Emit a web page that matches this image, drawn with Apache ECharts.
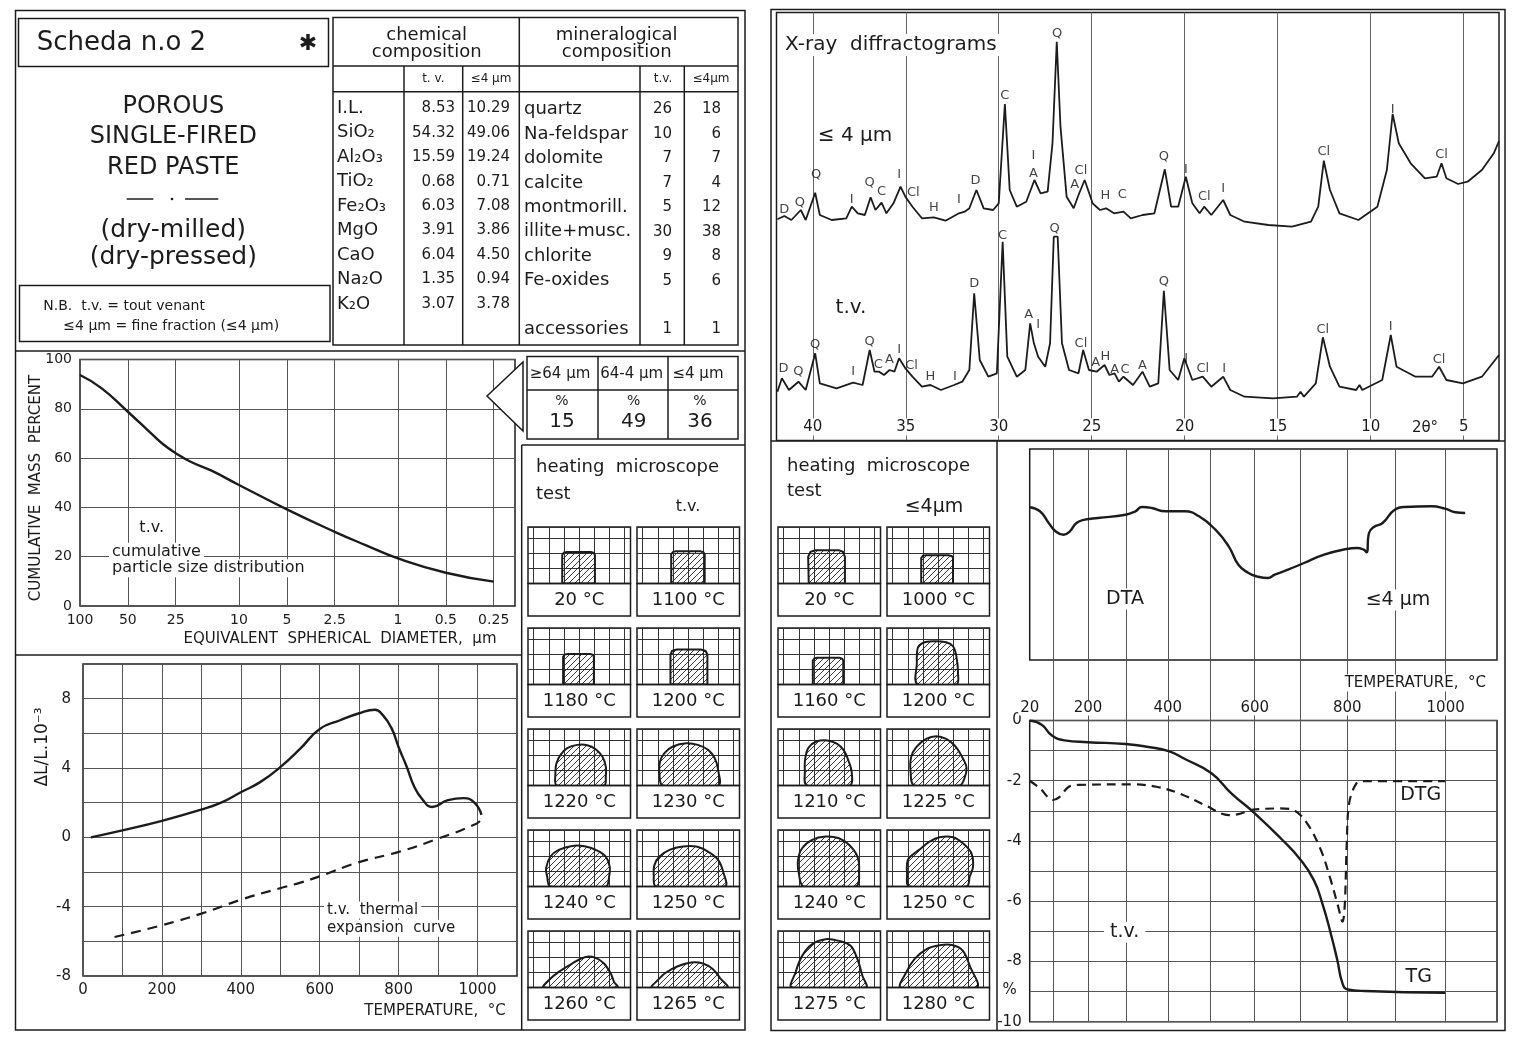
<!DOCTYPE html>
<html><head><meta charset="utf-8">
<script src="https://cdn.jsdelivr.net/npm/echarts@6/dist/echarts.min.js"></script>
<style>html,body{margin:0;padding:0;background:#fff}#c{width:1513px;height:1040px}</style>
</head><body><div id="c"></div>
<script>
// ===================== DATA =====================
const chemNames = ['I.L.','SiO₂','Al₂O₃','TiO₂','Fe₂O₃','MgO','CaO','Na₂O','K₂O'];
const chemTV    = ['8.53','54.32','15.59','0.68','6.03','3.91','6.04','1.35','3.07'];
const chemFine  = ['10.29','49.06','19.24','0.71','7.08','3.86','4.50','0.94','3.78'];
const minNames  = ['quartz','Na-feldspar','dolomite','calcite','montmorill.','illite+musc.','chlorite','Fe-oxides','','accessories'];
const minTV     = ['26','10','7','7','5','30','9','5','','1'];
const minFine   = ['18','6','7','4','12','38','8','6','','1'];
const sizeClasses = ['≥64 µm','64-4 µm','≤4 µm'];
const sizeShares  = ['15','49','36'];

// cumulative particle size distribution (t.v.)
const psdTicks      = [100,50,25,10,5,2.5,1,0.5,0.25];
const psdDiameter   = [100,73,50,35,30,25,20,15,10,5,2.5,1.6,1,0.5,0.25];
const psdCumulative = [93.7,88.3,78.8,69.5,65.6,62,58.4,55,49.1,39.2,30.1,24.7,19.3,13.5,9.9];

// thermal expansion (ΔL/L·10^-3 vs °C)
const dilHeatT = [20,100,200,300,350,400,450,500,550,600,650,700,740,760,782,800,820,840,860,885,925,965,992,1010];
const dilHeatV = [0,0.4,0.95,1.6,2.0,2.6,3.2,4.05,5.1,6.25,6.74,7.16,7.36,7.05,6.3,5.2,4.1,2.9,2.2,1.75,2.15,2.26,2.0,1.3];
const dilCoolT = [80,200,300,400,497,553,600,697,800,897,994,1010];
const dilCoolV = [-5.75,-5.07,-4.4,-3.6,-2.95,-2.6,-2.25,-1.45,-0.84,-0.1,0.75,1.05];

// X-ray diffractograms [2θ, counts (arbitrary)]
const xrdTicks = [5,10,15,20,25,30,35,40];
const xrdFine = [[41.9,219.7],[41.53,223],[41.15,219],[40.64,229],[40.38,219],[39.87,246.3],[39.62,224],[38.98,219],[38.2,220.7],[37.9,232.3],[37.58,225.7],[37.2,224],[36.89,241.7],[36.63,229],[36.3,236.3],[36.04,225.7],[35.66,235.7],[35.28,252.3],[35.02,242.3],[34.64,232.3],[34.13,220.7],[33.49,221.7],[32.86,218.3],[32.14,225.7],[31.83,227.3],[31.58,230.7],[31.2,249],[30.81,230.7],[30.3,229],[30.0,235.7],[29.67,335],[29.41,249],[29.03,232.3],[28.52,237.3],[28.08,259],[27.75,245.7],[27.37,247.3],[27.11,295.7],[26.88,397.3],[26.68,312.3],[26.35,242.3],[25.97,230.7],[25.71,244],[25.38,259],[24.95,235.7],[24.56,229],[24.23,230.7],[23.8,225.7],[23.29,227.3],[22.9,220.7],[22.27,224],[21.63,225.7],[21.07,269.7],[20.73,232.3],[20.35,232.3],[19.94,262.3],[19.59,235.7],[19.2,225.7],[18.95,232.3],[18.57,224],[17.93,239],[17.55,224],[16.78,217.3],[15.5,214],[14.23,212.3],[13.21,217.3],[12.82,232.3],[12.52,278.3],[12.19,249],[11.68,225.7],[10.66,219],[9.64,232.3],[9.13,269],[8.82,325],[8.49,295.7],[7.85,275.7],[7.08,260.7],[6.45,262.3],[6.19,275.7],[5.93,260.7],[5.3,255],[4.79,257.3],[4.02,269],[3.38,285.7],[3.1,298]];
const xrdTV = [[41.9,47.3],[41.66,60.7],[41.28,49],[40.77,57.3],[40.38,49],[39.87,85.7],[39.62,55.7],[38.72,50.7],[37.83,56.3],[37.32,54],[36.94,89],[36.68,67.3],[36.43,67.3],[36.17,64],[35.87,69],[35.61,67.3],[35.36,80.7],[35.02,70.7],[34.64,62.3],[34.13,52.3],[33.67,54],[33.11,49],[32.4,54],[31.96,57.3],[31.58,69],[31.32,145.7],[31.02,79],[30.56,62.3],[30.1,65.7],[29.79,197.3],[29.54,82.3],[29.03,62.3],[28.57,69],[28.31,115.7],[28.11,95.7],[27.88,82.3],[27.5,72.3],[27.24,95.7],[27.04,202.3],[26.83,202.3],[26.6,95.7],[26.22,69],[25.71,65.7],[25.46,89],[25.15,69],[24.74,67.3],[24.31,74],[24.05,64],[23.77,65.7],[23.54,57.3],[23.29,62.3],[22.78,54],[22.27,67.3],[21.88,52.3],[21.42,55.7],[21.12,148.3],[20.81,69],[20.35,59],[20.02,80.7],[19.59,59],[19.03,62.3],[18.57,52.3],[17.93,62.3],[17.55,49],[16.78,42.3],[15.25,40.7],[13.97,42.3],[13.77,47.3],[13.59,42.3],[12.95,55.7],[12.57,101.7],[12.19,72.3],[11.68,52.3],[10.78,49],[10.6,54],[10.45,49],[9.38,59],[8.92,104],[8.61,72.3],[7.59,62.3],[6.7,62.3],[6.32,72.3],[5.93,59],[5.04,55.7],[4.02,62.3],[3.1,84]];
const xrdFinePeaks = [[41.53,229.7,'D'],[40.69,236.7,'Q'],[39.82,264.7,'Q'],[37.91,239.7,'I'],[36.94,256.3,'Q'],[36.3,247.3,'C'],[35.36,264,'I'],[34.59,246.3,'Cl'],[33.49,231.7,'H'],[32.14,239,'I'],[31.25,258.3,'D'],[29.67,343,'C'],[28.13,283,'I'],[28.13,265.7,'A'],[26.86,405,'Q'],[25.91,254,'A'],[25.58,268.3,'Cl'],[24.26,243,'H'],[23.36,244.7,'C'],[21.12,282.3,'Q'],[19.94,269.7,'I'],[18.95,242.3,'Cl'],[17.93,250.7,'I'],[12.52,287.3,'Cl'],[8.82,329.7,'I'],[6.19,284.7,'Cl']];
const xrdTVPeaks = [[41.58,70.7,'D'],[40.77,67.3,'Q'],[39.87,94,'Q'],[37.83,67.3,'I'],[36.94,97.3,'Q'],[36.48,74,'C'],[35.87,79,'A'],[35.36,89,'I'],[34.69,73,'Cl'],[33.67,62.3,'H'],[32.35,62.3,'I'],[31.32,155.7,'D'],[29.79,203.7,'C'],[28.39,124,'A'],[27.88,114,'I'],[26.99,210,'Q'],[25.58,95,'Cl'],[24.79,76.3,'A'],[24.26,82.3,'H'],[23.77,69,'A'],[23.21,69.7,'C'],[22.27,73,'A'],[21.12,157.3,'Q'],[19.92,80.7,'I'],[19.03,70.7,'Cl'],[17.88,70.7,'I'],[12.57,109,'Cl'],[8.92,112,'I'],[6.32,79,'Cl']];

// thermal analysis: temperature axis of type-S thermocouple (°C ↔ mV)
const tcTemp = [20,100,200,300,400,500,600,700,800,900,1000,1100];
const tcEmf  = [0.113,0.646,1.441,2.323,3.259,4.233,5.239,6.275,7.345,8.449,9.587,10.757];
const tempLabels = [20,200,400,600,800,1000];
const dtaT = [20,55,85,107,130,148,167,191,226,297,321,337,361,394,440,473,511,541,563,586,604,629,644,673,708,751,799,820,834,840,845,855,873,898,918,972,999,1019,1038];
const dtaV = [152.7,148.7,137,128.7,125.3,128.7,137,140.3,142,145.3,148.7,153,152,148.7,148.7,143.7,130.3,113.7,95.3,87,83.7,82,85.3,90.3,97,105.3,111,112,110.3,107.7,127,133,137,150.3,153,153.7,151.3,147.7,147];
const tgT = [20,61,96,133,200,297,353,402,440,502,547,600,657,701,729,747,765,779,790,801,837,999];
const tgV = [0,-0.14,-0.5,-0.66,-0.72,-0.78,-0.88,-1.02,-1.28,-1.75,-2.42,-3.08,-3.91,-4.63,-5.3,-6.07,-7.07,-7.96,-8.73,-8.93,-8.98,-9.04];
const dtgT = [20,55,99,117,145,173,315,372,427,487,541,563,593,657,686,715,744,765,781,790,795,799,804,818,832,999];
const dtgV = [-2.0,-2.25,-2.64,-2.55,-2.2,-2.14,-2.12,-2.2,-2.42,-2.81,-3.14,-3.11,-2.97,-2.92,-2.98,-3.42,-4.3,-5.3,-6.19,-6.68,-6.07,-4.08,-2.75,-2.11,-2.01,-2.01];

// heating microscope silhouettes, in grid squares (x, height)
const tvLabels = ['20 °C','1100 °C','1180 °C','1200 °C','1220 °C','1230 °C','1240 °C','1250 °C','1260 °C','1265 °C'];
const tvShapes = [
 [[1.89,0],[1.89,1.9],[2.0,2.06],[2.2,2.11],[3.8,2.11],[3.98,2.05],[4.06,1.9],[4.06,0]],
 [[1.89,0],[1.89,1.95],[2.0,2.1],[2.2,2.16],[3.8,2.16],[4.02,2.1],[4.11,1.95],[4.11,0]],
 [[1.95,0],[1.95,1.85],[2.05,2.0],[2.25,2.04],[3.75,2.04],[3.93,1.98],[3.99,1.85],[3.99,0]],
 [[1.84,0],[1.84,2.0],[1.95,2.24],[2.25,2.33],[3.85,2.33],[4.17,2.24],[4.29,2.0],[4.29,0]],
 [[1.55,0],[1.44,0.82],[1.51,1.49],[1.78,2.04],[2.22,2.49],[2.89,2.71],[3.55,2.69],[4.11,2.42],[4.55,1.93],[4.78,1.27],[4.78,0.6],[4.66,0]],
 [[1.33,0],[1.11,0.82],[1.15,1.6],[1.44,2.16],[2.0,2.6],[2.89,2.82],[3.66,2.71],[4.33,2.38],[4.78,1.82],[5.0,1.04],[5.0,0]],
 [[1.11,0],[0.89,0.67],[0.82,1.22],[1.11,2.0],[1.66,2.44],[2.55,2.71],[3.44,2.67],[4.22,2.4],[4.78,2.0],[5.04,1.33],[5.0,0.67],[4.78,0]],
 [[0.89,0],[0.73,0.78],[0.78,1.44],[1.11,2.0],[1.78,2.44],[2.66,2.67],[3.55,2.67],[4.33,2.33],[5.0,1.78],[5.33,1.0],[5.44,0]],
 [[0.66,0],[1.0,0.49],[1.66,1.04],[2.55,1.6],[3.44,2.04],[4.11,1.98],[4.66,1.6],[5.11,0.93],[5.33,0.38],[5.55,0]],
 [[0.62,0],[1.0,0.49],[1.55,1.0],[2.33,1.42],[3.22,1.67],[4.0,1.6],[4.66,1.22],[5.15,0.6],[5.6,0]]
];
const fineLabels = ['20 °C','1000 °C','1160 °C','1200 °C','1210 °C','1225 °C','1240 °C','1250 °C','1275 °C','1280 °C'];
const fineShapes = [
 [[1.66,0],[1.62,1.78],[1.78,2.11],[2.11,2.22],[3.66,2.22],[3.93,2.11],[4.06,1.78],[4.06,0]],
 [[1.89,0],[1.89,1.7],[2.0,1.85],[2.2,1.89],[3.7,1.89],[3.92,1.83],[4.0,1.7],[4.0,0]],
 [[1.93,0],[1.93,1.6],[2.03,1.74],[2.2,1.78],[3.7,1.78],[3.88,1.72],[3.95,1.6],[3.95,0]],
 [[1.66,0],[1.6,1.44],[1.66,2.44],[2.0,2.78],[2.66,2.89],[3.55,2.82],[4.0,2.55],[4.22,1.89],[4.33,0.78],[4.22,0]],
 [[1.55,0],[1.4,1.0],[1.44,1.89],[1.66,2.55],[2.22,2.95],[2.89,3.0],[3.55,2.78],[4.0,2.33],[4.29,1.67],[4.51,0.89],[4.38,0]],
 [[1.44,0],[1.18,1.0],[1.22,1.89],[1.55,2.55],[2.22,3.11],[2.89,3.29],[3.55,3.11],[4.11,2.67],[4.55,2.0],[4.89,1.22],[4.78,0.55],[4.44,0]],
 [[1.33,0],[1.0,0.89],[0.95,1.78],[1.22,2.55],[1.89,3.11],[2.78,3.33],[3.66,3.22],[4.33,2.78],[4.89,2.0],[5.0,1.11],[4.78,0]],
 [[1.11,0],[0.95,0.89],[1.0,1.78],[1.44,2.22],[1.89,2.55],[2.44,3.0],[3.11,3.29],[4.0,3.29],[4.66,2.89],[5.22,2.22],[5.33,1.33],[5.11,0.67],[4.89,0]],
 [[0.55,0],[0.78,1.0],[1.22,2.11],[1.89,2.89],[2.78,3.22],[3.66,3.11],[4.44,2.78],[4.89,1.89],[5.22,0.78],[5.44,0]],
 [[0.55,0],[0.89,1.0],[1.44,1.89],[2.22,2.55],[3.11,2.82],[4.0,2.82],[4.66,2.44],[5.11,1.44],[5.55,0]]
];
const cellCols = [0,1,2,3,4,5,6];

// ===================== STYLE / HELPERS =====================
const FONT = "'DejaVu Sans', 'Liberation Sans', sans-serif";
const INK = '#1c1c1c';
const GRIDC = '#555';

function toEmf(t){
  for (let i=0;i<tcTemp.length-1;i++){
    if (t <= tcTemp[i+1]) { const f=(t-tcTemp[i])/(tcTemp[i+1]-tcTemp[i]); return tcEmf[i]+f*(tcEmf[i+1]-tcEmf[i]); }
  }
  return tcEmf[tcEmf.length-1];
}
function emfToLabel(v){ for (let i=0;i<tcEmf.length;i++){ if (Math.abs(tcEmf[i]-v)<1e-6) return String(tcTemp[i]); } return ''; }

const els = [];
function R(x,y,w,h,lw){ els.push({type:'rect', silent:true, z:20, shape:{x,y,width:w,height:h}, style:{fill:'none', stroke:INK, lineWidth:lw||1.5}}); }
function L(x1,y1,x2,y2,lw){ els.push({type:'line', silent:true, z:20, shape:{x1,y1,x2,y2}, style:{stroke:INK, lineWidth:lw||1.5}}); }
function T(x,y,text,size,align,opt){
  opt = opt||{};
  const st = {text, fill:INK, font: size+'px '+FONT, align: align||'left', verticalAlign:'middle', textAlign: align||'left', textVerticalAlign:'middle'};
  if (opt.bg) { st.backgroundColor = '#fff'; st.padding = opt.pad || [1,3]; }
  els.push({type:'text', silent:true, z: 30, x, y, rotation: opt.rot||0, style: st});
}

const grids=[], xAxes=[], yAxes=[], series=[];
const baseAxis = {type:'value', axisLine:{show:false}, axisTick:{show:false}, axisLabel:{show:false}, splitLine:{show:false}};
function G(o){ grids.push(Object.assign({outerBoundsMode:'none', containLabel:false}, o)); return grids.length-1; }
function XA(o){ xAxes.push(Object.assign({}, baseAxis, o)); return xAxes.length-1; }
function YA(o){ yAxes.push(Object.assign({}, baseAxis, o)); return yAxes.length-1; }
const split = (c,w)=>({show:true, lineStyle:{color:c||GRIDC, width:w||1}});
const lbl = (o)=>Object.assign({show:true, color:INK, fontFamily:FONT, fontSize:14}, o||{});
const lineS = (c)=>Object.assign({type:'line', symbol:'none', silent:true, z:3}, c);

// ---- particle size chart ----
const gP = G({left:80, top:359.5, width:435, height:246.5, show:true, borderColor:INK, borderWidth:1.5});
const psdLog = psdTicks.map(Math.log10);
const xP = XA({gridIndex:gP, min:-0.736, max:2, inverse:true,
  axisTick:{show:false, customValues:psdLog},
  axisLabel:lbl({customValues:psdLog, margin:7, formatter:v=>{ for (const d of psdTicks) if (Math.abs(Math.log10(d)-v)<1e-6) return String(d); return ''; }}),
  splitLine:split()});
const yP = YA({gridIndex:gP, min:0, max:100, interval:20, axisLabel:lbl({margin:8}), splitLine:split()});
series.push(lineS({xAxisIndex:xP, yAxisIndex:yP, smooth:0.5, lineStyle:{color:INK, width:2.4},
  data: psdDiameter.map((d,i)=>[Math.log10(d), psdCumulative[i]])}));

// ---- thermal expansion chart ----
const gD = G({left:83, top:664, width:434, height:312, show:true, borderColor:INK, borderWidth:1.5});
const xD = XA({gridIndex:gD, min:0, max:1100, interval:100, axisLabel:lbl({fontSize:15, margin:7, formatter:v=> v%200===0 ? String(v) : ''}), splitLine:split()});
const yD = YA({gridIndex:gD, min:-8, max:10, interval:2, axisLabel:lbl({fontSize:15, margin:12, formatter:v=> (v%4===0 && v<10) ? String(v) : ''}), splitLine:split()});
series.push(lineS({xAxisIndex:xD, yAxisIndex:yD, smooth:0.5, lineStyle:{color:INK, width:2.4}, data: dilHeatT.map((t,i)=>[t, dilHeatV[i]])}));
series.push(lineS({xAxisIndex:xD, yAxisIndex:yD, smooth:0.5, lineStyle:{color:INK, width:2.2, type:[10,7]}, data: dilCoolT.map((t,i)=>[t, dilCoolV[i]])}));

// ---- XRD ----
const gX = G({left:776.5, top:12.5, width:722.5, height:428, show:true, borderColor:INK, borderWidth:1.5});
const xX = XA({gridIndex:gX, min:3.1, max:41.95, inverse:true, axisTick:{show:false, customValues:xrdTicks}, splitLine:split('#666',1)});
XA({gridIndex:gX, min:3.1, max:41.95, inverse:true, position:'bottom', z:5,
  axisLabel:lbl({customValues:xrdTicks, inside:true, margin:5, fontSize:15, backgroundColor:'#fff', padding:[1,3]})});
const yX = YA({gridIndex:gX, min:-1.5, max:426.5});
series.push(lineS({xAxisIndex:xX, yAxisIndex:yX, lineStyle:{color:INK, width:1.8}, data:xrdFine}));
series.push(lineS({xAxisIndex:xX, yAxisIndex:yX, lineStyle:{color:INK, width:1.8}, data:xrdTV}));
const peakLabel = {show:true, position:'inside', color:'#111', fontFamily:FONT, fontSize:13, formatter:p=>p.data[2]};
series.push({type:'scatter', xAxisIndex:xX, yAxisIndex:yX, symbolSize:0, silent:true, z:4, label:peakLabel, data:xrdFinePeaks});
series.push({type:'scatter', xAxisIndex:xX, yAxisIndex:yX, symbolSize:0, silent:true, z:4, label:peakLabel, data:xrdTVPeaks});

// ---- DTA / gap / TG ----
const emfMin = tcEmf[0], emfMax = tcEmf[tcEmf.length-1];
const emfGridTicks = tcEmf.slice(1, tcEmf.length-1);
const emfLabelTicks = tempLabels.map(toEmf);
const tempAxis = (gi)=>XA({gridIndex:gi, min:emfMin, max:emfMax, axisTick:{show:false, customValues:emfGridTicks}, splitLine:split()});
const gA = G({left:1029.7, top:449, width:467.3, height:211, show:true, borderColor:INK, borderWidth:1.5});
const xA = tempAxis(gA);
const yA = YA({gridIndex:gA, min:0, max:211});
series.push(lineS({xAxisIndex:xA, yAxisIndex:yA, smooth:0.5, lineStyle:{color:INK, width:2.4}, data: dtaT.map((t,i)=>[toEmf(t), dtaV[i]])}));

const gGap = G({left:1029.7, top:660, width:467.3, height:60.5});
tempAxis(gGap); YA({gridIndex:gGap, min:0, max:1});

const gT = G({left:1029.7, top:720.5, width:467.3, height:301.2, show:true, borderColor:INK, borderWidth:1.5});
const xT = tempAxis(gT);
XA({gridIndex:gT, min:emfMin, max:emfMax, position:'top', z:5,
  axisLabel:lbl({customValues:emfLabelTicks, fontSize:15, margin:5, backgroundColor:'#fff', padding:[0,2], formatter:emfToLabel})});
const yT = YA({gridIndex:gT, min:-10, max:0, interval:1, axisLabel:lbl({fontSize:15, margin:8, formatter:v=> v%2===0 ? String(v) : ''}), splitLine:split()});
series.push(lineS({xAxisIndex:xT, yAxisIndex:yT, smooth:0.5, lineStyle:{color:INK, width:2.4}, data: tgT.map((t,i)=>[toEmf(t), tgV[i]])}));
series.push(lineS({xAxisIndex:xT, yAxisIndex:yT, smooth:0.35, lineStyle:{color:INK, width:2.2, type:[9,6]}, data: dtgT.map((t,i)=>[toEmf(t), dtgV[i]])}));

// ---- heating microscope cells ----
const hc = document.createElement('canvas'); hc.width = 6; hc.height = 6;
const hx = hc.getContext('2d'); hx.strokeStyle = '#222'; hx.lineWidth = 0.9;
hx.beginPath(); hx.moveTo(0,6); hx.lineTo(6,0); hx.moveTo(-1,1); hx.lineTo(1,-1); hx.moveTo(5,7); hx.lineTo(7,5); hx.stroke();
const hatch = {image: hc, repeat: 'repeat'};
const CW = 102.5, GH = 56.5, LH = 32.5;
const rowTops = [527, 628, 729, 830, 931];
function addCells(colX, shapes, labels){
  shapes.forEach((shape, k)=>{
    const x = colX[k%2], y = rowTops[Math.floor(k/2)];
    const gi = G({left:x, top:y, width:CW, height:GH, show:true, borderColor:INK, borderWidth:1.5});
    const xi = XA({gridIndex:gi, min:-0.38, max:6.42, axisTick:{show:false, customValues:cellCols}, splitLine:split('#333',1)});
    const yi = YA({gridIndex:gi, min:0, max:3.77, interval:1, splitLine:split('#333',1)});
    const sm = shape.length > 8 ? 0.35 : 0;
    series.push({type:'custom', xAxisIndex:xi, yAxisIndex:yi, clip:true, silent:true, z:3, data:[[0,0]],
      renderItem:(params, api)=>({type:'polygon', shape:{points: shape.map(p=>api.coord(p)), smooth: sm}, style:{fill: hatch, stroke: INK, lineWidth: 2}})});
    R(x, y+GH, CW, LH, 1.5);
    T(x+CW/2, y+GH+LH/2+1, labels[k], 18, 'center');
  });
}
addCells([528, 637], tvShapes, tvLabels);
addCells([778, 887], fineShapes, fineLabels);

// ===================== FRAMES & TEXT =====================
// left page
R(15.5, 10.5, 729.5, 1019.5);
R(18.5, 18.5, 310, 48);
R(19.5, 285.5, 310.5, 56);
R(333, 17.5, 405, 327.5);
L(333, 66, 738, 66); L(333, 91.7, 738, 91.7);
L(519.3, 17.5, 519.3, 345); L(404, 66, 404, 345); L(462.7, 66, 462.7, 345); L(640, 66, 640, 345); L(684.3, 66, 684.3, 345);
L(15.5, 351, 745, 351);
L(15.5, 655, 521.7, 655);
L(521.7, 445, 521.7, 1030); L(521.7, 445, 745, 445);
els.push({type:'polygon', silent:true, z:20, shape:{points:[[487,396],[523,362],[523,431]]}, style:{fill:'#fff', stroke:INK, lineWidth:1.5}});
R(527, 356.5, 211, 82.5); L(527, 390, 738, 390); L(598, 356.5, 598, 439); L(668, 356.5, 668, 439);
// right page
R(771, 9.5, 734, 1021);
L(771, 441, 1505, 441);
L(997, 441, 997, 1030.5);

// title block
T(36.7, 43.3, 'Scheda n.o 2', 26);
T(308, 44, '✱', 22, 'center');
T(173.3, 106.7, 'POROUS', 24, 'center');
T(173.3, 137, 'SINGLE-FIRED', 24, 'center');
T(173.3, 168, 'RED PASTE', 24, 'center');
L(126.7, 199, 153.3, 199, 1.5); L(185, 199, 218.3, 199, 1.5);
els.push({type:'circle', silent:true, z:20, shape:{cx:172, cy:199, r:1.3}, style:{fill:INK}});
T(173.3, 230, '(dry-milled)', 25, 'center');
T(173.3, 257, '(dry-pressed)', 25, 'center');
T(43.3, 306.7, 'N.B.  t.v. = tout venant', 14);
T(63.3, 326.7, '≤4 µm = fine fraction (≤4 µm)', 14);

// composition table
T(426.7, 35, 'chemical', 18, 'center'); T(426.7, 52, 'composition', 18, 'center');
T(616.7, 35, 'mineralogical', 18, 'center'); T(616.7, 52, 'composition', 18, 'center');
T(433.3, 78.5, 't. v.', 12, 'center'); T(491, 78.5, '≤4 µm', 12, 'center');
T(663, 78.5, 't.v.', 12, 'center'); T(711, 78.5, '≤4µm', 12, 'center');
chemNames.forEach((n,i)=>{ const y = 108.3 + i*24.45; T(337, y, n, 18); T(455, y, chemTV[i], 15, 'right'); T(510, y, chemFine[i], 15, 'right'); });
minNames.forEach((n,i)=>{ const y = 109.5 + i*24.45; if (n) { T(524, y, n, 18); T(672, y, minTV[i], 15, 'right'); T(721, y, minFine[i], 15, 'right'); } });

// size fractions table
[560, 631.7, 698].forEach((x,i)=>{ T(x, 374, sizeClasses[i], 15, 'center'); T(x+2, 401, '%', 14, 'center'); T(x+2, 422, sizeShares[i], 20, 'center'); });

// particle chart texts
T(36, 488, 'CUMULATIVE  MASS  PERCENT', 15, 'center', {rot: Math.PI/2});
T(340, 639, 'EQUIVALENT  SPHERICAL  DIAMETER,  µm', 15, 'center');
T(151.7, 528.3, 't.v.', 16, 'center', {bg:true});
T(109, 551.7, 'cumulative', 16, 'left', {bg:true});
T(109, 568.3, 'particle size distribution', 16, 'left', {bg:true});

// thermal expansion texts
T(43, 747, 'ΔL/L.10⁻³', 17, 'center', {rot: Math.PI/2});
T(435, 1010.7, 'TEMPERATURE,  °C', 15, 'center');
T(324, 910, 't.v.  thermal', 15, 'left', {bg:true});
T(324, 928.3, 'expansion  curve', 15, 'left', {bg:true});

// heating microscope titles
T(536, 467.7, 'heating  microscope', 18); T(536, 494, 'test', 18); T(688, 507, 't.v.', 16, 'center');
T(787, 466.7, 'heating  microscope', 18); T(787, 491.5, 'test', 18); T(934, 506.8, '≤4µm', 19, 'center');

// XRD texts
T(782, 45, 'X-ray  diffractograms', 20, 'left', {bg:true});
T(855, 136, '≤ 4 µm', 20, 'center', {bg:true});
T(851, 308, 't.v.', 20, 'center', {bg:true});
T(1425, 428, '2θ°', 15, 'center', {bg:true});

// DTA/TG texts
T(1125, 599, 'DTA', 19, 'center', {bg:true});
T(1398, 600, '≤4 µm', 19, 'center', {bg:true});
T(1489, 683, 'TEMPERATURE,  °C', 15, 'right', {bg:true});
T(1420.7, 795, 'DTG', 19, 'center', {bg:true});
T(1418.7, 976.7, 'TG', 19, 'center', {bg:true});
T(1124.7, 932.3, 't.v.', 19, 'center', {bg:true, pad:[1,6]});
T(1009.7, 990, '%', 15, 'center');

// ===================== CHART =====================
const chart = echarts.init(document.getElementById('c'), null, {renderer:'canvas', width:1513, height:1040});
chart.setOption({
  animation:false,
  backgroundColor:'#fff',
  textStyle:{fontFamily:FONT, color:INK},
  grid: grids, xAxis: xAxes, yAxis: yAxes, series: series,
  graphic:{elements: els}
});
</script>
</body></html>
